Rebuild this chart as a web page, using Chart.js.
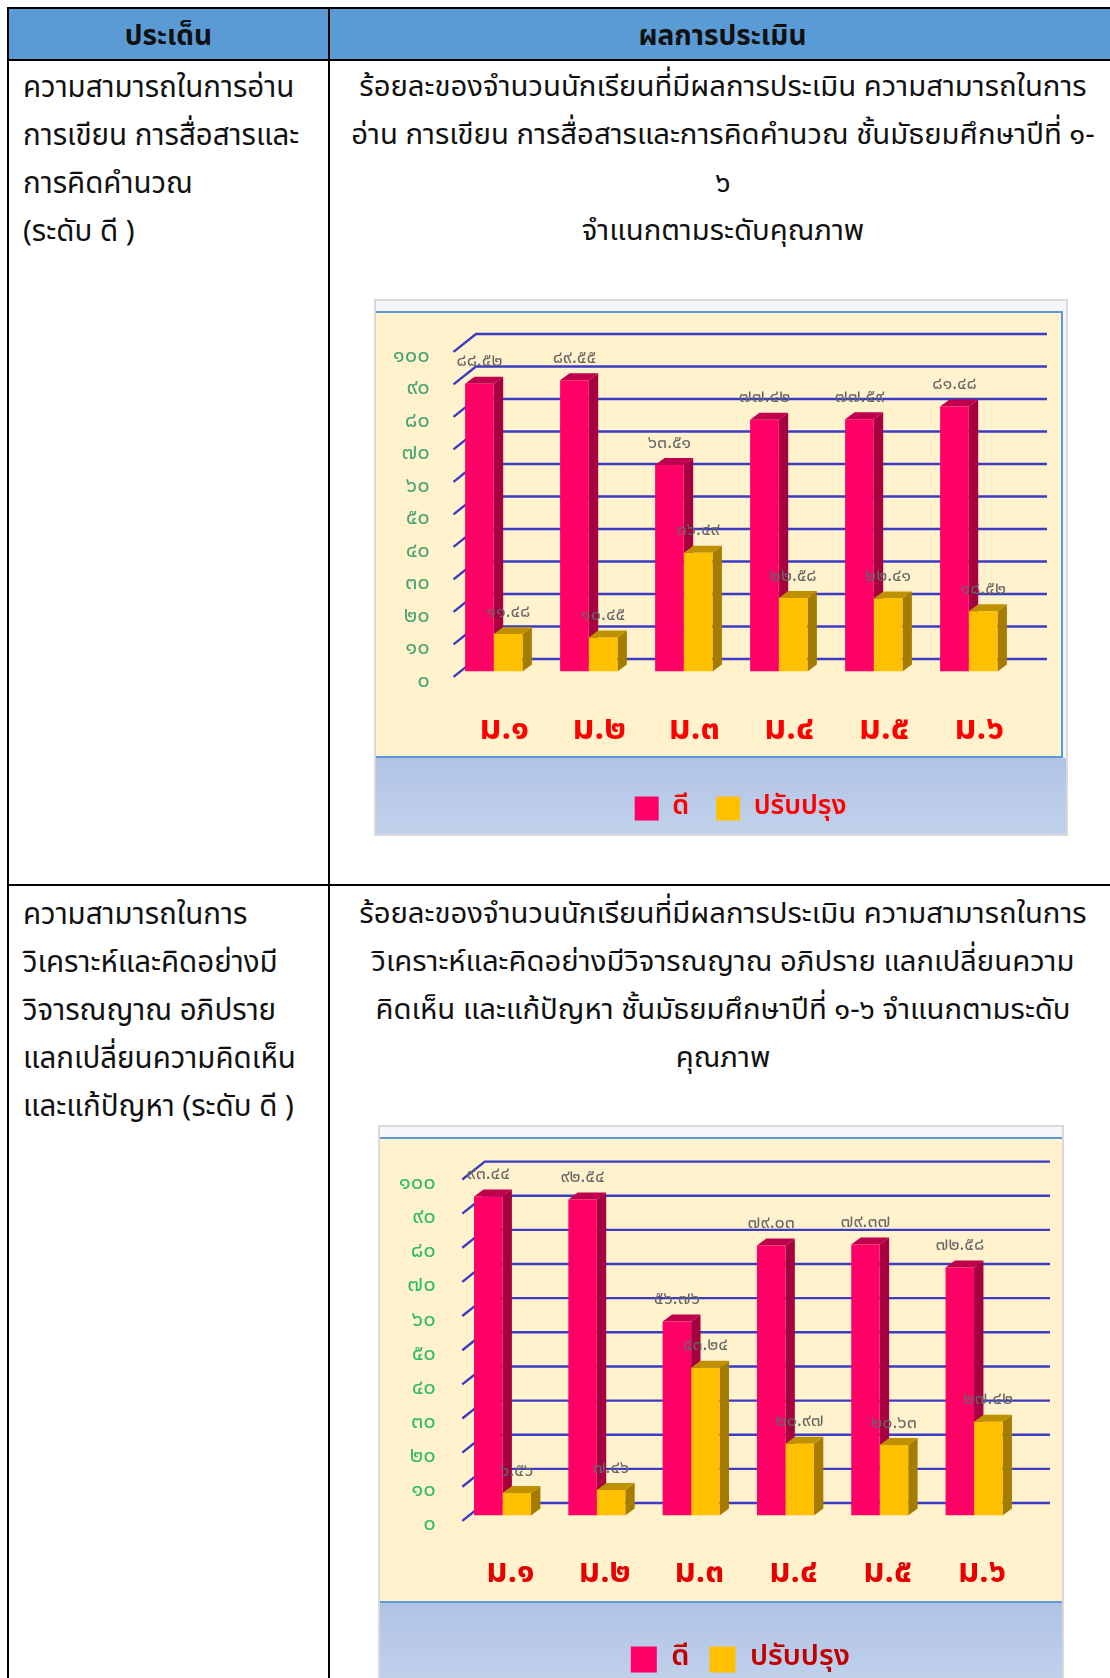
<!DOCTYPE html>
<html lang="th">
<head>
<meta charset="UTF-8">
<title>ผลการประเมิน</title>
<script src="https://cdn.jsdelivr.net/npm/chart.js"></script>
<style>
  html, body { margin: 0; padding: 0; background: #fff; }
  body { position: relative; width: 1110px; height: 1678px; overflow: hidden; font-family: "Noto Sans Thai", "Noto Sans", "DejaVu Sans", sans-serif; color: #111; }
  table { position: absolute; left: 7px; top: 7px; width: 1200px; border-collapse: collapse; table-layout: fixed; }
  th, td { border: 2px solid #000; vertical-align: top; padding: 0; }
  th { background: #5b9bd5; height: 43px; padding-top: 6px; font-size: 28px; font-weight: 700; line-height: 44px; }
  td { font-size: 29.5px; line-height: 48px; }
  .side { padding: 3px 0 0 14px; height: 820px; }
  .side2 { height: 860px; padding-top: 5px; }
  .body { position: absolute; left: 330px; width: 790px; text-align: center; font-size: 29.3px; line-height: 48px; }
  .frame { position: absolute; box-sizing: border-box; border: 2px solid #d9d9d9; background: #f4f6fb; }
  .panel { position: absolute; left: 0; background: #fff2cc; border-top: 2px solid #5b9bd5; border-bottom: 2px solid #5b9bd5; box-sizing: border-box; }
  .foot { position: absolute; left: 0; background: linear-gradient(#b0c3e4, #c2d2ec); }
  canvas { position: absolute; left: 0; top: 0; }
</style>
</head>
<body>
<table>
  <colgroup><col style="width:321px"><col></colgroup>
  <tr><th>ประเด็น</th><th style="padding-right:90px">ผลการประเมิน</th></tr>
  <tr><td class="side">ความสามารถในการอ่าน<br>การเขียน การสื่อสารและ<br>การคิดคำนวณ<br>(ระดับ ดี )</td><td></td></tr>
  <tr><td class="side side2">ความสามารถในการ<br>วิเคราะห์และคิดอย่างมี<br>วิจารณญาณ อภิปราย<br>แลกเปลี่ยนความคิดเห็น<br>และแก้ปัญหา (ระดับ ดี )</td><td></td></tr>
</table>

<div class="body" style="top:63px;width:786px">ร้อยละของจำนวนนักเรียนที่มีผลการประเมิน ความสามารถในการ<br>อ่าน การเขียน การสื่อสารและการคิดคำนวณ ชั้นมัธยมศึกษาปีที่ ๑-<br>๖<br>จำแนกตามระดับคุณภาพ</div>
<div class="body" style="top:890px;width:786px">ร้อยละของจำนวนนักเรียนที่มีผลการประเมิน ความสามารถในการ<br>วิเคราะห์และคิดอย่างมีวิจารณญาณ อภิปราย แลกเปลี่ยนความ<br>คิดเห็น และแก้ปัญหา ชั้นมัธยมศึกษาปีที่ ๑-๖ จำแนกตามระดับ<br>คุณภาพ</div>

<div class="frame" style="left:374px;top:299px;width:694px;height:537px">
  <div class="panel" style="top:10px;width:687px;height:447px;border-right:2px solid #5b9bd5"></div>
  <div class="foot" style="top:457px;width:690px;height:76px"></div>
  <canvas id="chart1" style="left:-2px;top:-2px"></canvas>
</div>
<div class="frame" style="left:378px;top:1125px;width:686px;height:560px;border-bottom:0">
  <div class="panel" style="top:10px;width:682px;height:466px"></div>
  <div class="foot" style="top:476px;width:682px;height:84px"></div>
  <canvas id="chart2" style="left:-2px;top:-2px"></canvas>
</div>

<script>
const categories = ['ม.๑', 'ม.๒', 'ม.๓', 'ม.๔', 'ม.๕', 'ม.๖'];
const tickLabels = ['๐', '๑๐', '๒๐', '๓๐', '๔๐', '๕๐', '๖๐', '๗๐', '๘๐', '๙๐', '๑๐๐'];
const seriesNames = ['ดี', 'ปรับปรุง'];

const good1 = [88.52, 89.55, 63.51, 77.42, 77.59, 81.48];
const improve1 = [11.48, 10.45, 36.49, 22.58, 22.41, 18.52];
const good2 = [93.44, 92.54, 56.76, 79.03, 79.37, 72.58];
const improve2 = [6.56, 7.46, 43.24, 20.97, 20.63, 27.42];

const thaiFont = '"Noto Sans Thai", "Noto Sans", "DejaVu Sans", sans-serif';
const THAI_DIGITS = '๐๑๒๓๔๕๖๗๘๙';
const toThai = v => v.toFixed(2).replace(/\d/g, d => THAI_DIGITS[d]);

// faces: side, top
const shades = [['#a5003f', '#bf004d'], ['#a67c00', '#bf9000']];

// the 3d look: back wall lines and the side/top faces of the bars
const depthPlugin = {
  id: 'depth',
  beforeDatasetsDraw(chart, args, o) {
    const { ctx, scales: { y } } = chart;
    ctx.save();
    ctx.strokeStyle = '#3b3bc4';
    ctx.lineWidth = 2.4;
    y.ticks.forEach(t => {
      const py = y.getPixelForValue(t.value);
      ctx.beginPath();
      ctx.moveTo(o.wallLeft - 22.5, py + 5.5);
      ctx.lineTo(o.wallLeft, py - 12.4);
      ctx.lineTo(o.wallRight, py - 12.4);
      ctx.stroke();
    });
    chart.data.datasets.forEach((ds, i) => {
      chart.getDatasetMeta(i).data.forEach(bar => {
        const x0 = bar.x - bar.width / 2, x1 = bar.x + bar.width / 2, base = bar.base;
        const dx = 9.4, dy = 7;
        ctx.fillStyle = shades[i][0];
        ctx.beginPath();
        ctx.moveTo(x1, bar.y);
        ctx.lineTo(x1 + dx, bar.y - dy);
        ctx.lineTo(x1 + dx, base - dy);
        ctx.lineTo(x1, base);
        ctx.fill();
        ctx.fillStyle = shades[i][1];
        ctx.beginPath();
        ctx.moveTo(x0, bar.y);
        ctx.lineTo(x0 + dx, bar.y - dy);
        ctx.lineTo(x1 + dx, bar.y - dy);
        ctx.lineTo(x1, bar.y);
        ctx.fill();
      });
    });
    ctx.restore();
  },
  afterDatasetsDraw(chart) {
    const { ctx } = chart;
    ctx.save();
    ctx.font = '18px ' + thaiFont;
    ctx.fillStyle = '#666666';
    ctx.textAlign = 'center';
    ctx.textBaseline = 'middle';
    chart.data.datasets.forEach((ds, i) => {
      chart.getDatasetMeta(i).data.forEach((bar, j) => {
        ctx.fillText(toThai(ds.data[j]), bar.x, bar.y - 21);
      });
    });
    ctx.restore();
  },
  afterLayout(chart, args, o) {
    // legend starts at left + padding when aligned to start
    const lg = chart.legend;
    const pad = lg.options.labels.padding;
    lg.left = o.legendLeft - pad;
    lg.top = o.legendTop - pad;
  }
};

function makeChart(id, good, improve, s) {
  const canvas = document.getElementById(id);
  canvas.width = s.w;
  canvas.height = s.h;
  return new Chart(canvas, {
    type: 'bar',
    plugins: [depthPlugin],
    data: {
      labels: categories,
      datasets: [
        { label: seriesNames[0], data: good, backgroundColor: '#ff0066' },
        { label: seriesNames[1], data: improve, backgroundColor: '#ffc000' }
      ]
    },
    options: {
      responsive: false,
      animation: false,
      layout: { padding: { top: s.top, right: s.w - s.right, left: 0, bottom: 0 } },
      datasets: { bar: { categoryPercentage: 0.604, barPercentage: 1 } },
      scales: {
        x: {
          grid: { display: false, drawTicks: false },
          border: { display: false },
          afterFit: sc => { sc.height = s.h - s.bottom - sc.chart.legend.height; },
          ticks: { color: s.xColor, font: { family: thaiFont, size: s.xSize, weight: 'bold' }, labelOffset: s.xOff, padding: s.xPad, maxRotation: 0 }
        },
        y: {
          min: 0,
          max: 100,
          grid: { display: false, drawTicks: false },
          border: { display: false },
          afterFit: sc => { sc.width = s.left; },
          ticks: {
            stepSize: 10,
            color: s.yColor,
            font: { family: thaiFont, size: 22 },
            padding: s.yPad,
            labelOffset: s.yOff,
            callback: v => tickLabels[v / 10]
          }
        }
      },
      plugins: {
        tooltip: { enabled: false },
        legend: {
          position: 'bottom',
          align: 'start',
          labels: { boxWidth: s.box, boxHeight: s.box, padding: s.legendGap, color: s.legendColor, font: { family: thaiFont, size: s.legendSize, weight: '600' } }
        },
        depth: { wallLeft: s.wallLeft, wallRight: s.wallRight, legendLeft: s.legendLeft, legendTop: s.legendTop }
      }
    }
  });
}

makeChart('chart1', good1, improve1, {
  w: 694, h: 537, left: 72.3, right: 642.3, top: 47.4, bottom: 372.4,
  xPad: 40, xOff: 10.5, xSize: 34, yPad: 16.5, yOff: 11.1, box: 24,
  legendGap: 27, legendSize: 27,
  wallLeft: 102, wallRight: 673, legendLeft: 260.7, legendTop: 496,
  xColor: '#ff0000', yColor: '#4aa574', legendColor: '#ff0000'
});
makeChart('chart2', good2, improve2, {
  w: 686, h: 560, left: 77.35, right: 643.2, top: 49, bottom: 390.4,
  xPad: 40, xOff: 8, xSize: 33, yPad: 19.6, yOff: 10.5, box: 26,
  legendGap: 20, legendSize: 29,
  wallLeft: 106.8, wallRight: 672, legendLeft: 252.8, legendTop: 520,
  xColor: '#e60000', yColor: '#2ebd62', legendColor: '#c00000'
});
</script>
</body>
</html>
